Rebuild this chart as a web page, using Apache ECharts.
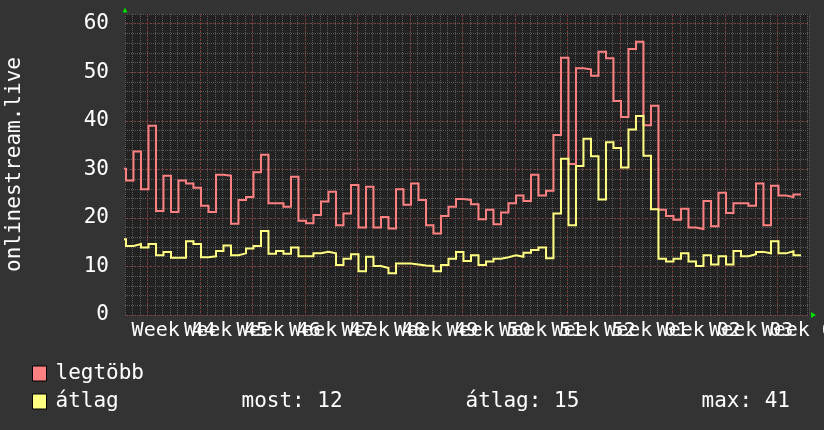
<!DOCTYPE html>
<html>
<head>
<meta charset="utf-8">
<script src="https://cdn.jsdelivr.net/npm/echarts@6/dist/echarts.min.js"></script>
<style>
html,body{margin:0;padding:0;background:#333333;}
#chart{width:824px;height:430px;}
</style>
</head>
<body>
<div id="chart"></div>
<script>
// ---- data ----
const weekLabels = ['Week 44','Week 45','Week 46','Week 47','Week 48','Week 49','Week 50',
  'Week 51','Week 52','Week 01','Week 02','Week 03','Week 04'];
const yTicks = [0, 10, 20, 30, 40, 50, 60];
const seriesNames = ['legtöbb', 'átlag'];
const yTitle = 'onlinestream.live';

// one value per day (first one is the partial day at the left edge)
const legtobb = [30.1,
  27.7,33.7,25.9,39.0,21.4,28.7,21.2,27.7,27.1,26.2,
  22.5,21.2,28.9,28.7,18.8,23.7,24.3,29.4,33.0,23.0,
  23.0,22.3,28.5,19.4,18.9,20.6,23.4,25.4,18.5,20.9,
  26.8,18.0,26.4,18.0,20.2,17.8,25.9,22.7,27.1,23.7,
  18.5,16.8,20.4,22.3,23.9,23.7,22.8,19.7,21.7,18.7,
  21.1,23.0,24.6,23.5,28.9,24.6,25.6,37.1,53.0,31.1,
  50.8,50.6,49.3,54.2,52.9,44.1,40.8,54.8,56.3,39.1,
  43.1,21.7,20.4,19.6,21.9,18.0,17.7,23.5,18.3,25.2,
  21.0,23.0,23.0,22.5,27.1,18.5,26.6,24.6,24.3,24.8];
const atlag = [15.6,
  14.2,14.6,13.9,14.6,12.3,13.0,11.8,11.8,15.2,14.6,
  11.9,12.1,13.2,14.3,12.3,12.7,13.7,14.2,17.3,12.6,
  13.2,12.6,13.9,12.1,12.1,12.7,13.0,12.7,10.3,11.6,
  12.5,9.0,12.0,10.1,9.7,8.6,10.6,10.6,10.4,10.2,
  10.1,9.0,10.3,11.6,13.0,11.1,12.3,10.3,11.0,11.6,
  11.9,12.3,12.0,12.8,13.4,13.9,11.7,20.9,32.2,18.5,
  30.7,36.3,32.7,23.8,35.6,34.4,30.4,38.2,41.0,32.8,
  21.8,11.6,11.0,11.6,12.7,11.0,10.1,12.3,10.4,12.1,
  10.4,13.2,12.1,12.5,13.0,12.7,15.2,12.7,13.1,12.3];

// ---- layout / style ----
const FONT = 'DejaVu Sans Mono';
const L = 125, T = 14, W = 684, H = 301;   // plot area
const R = L + W, B = T + H;
const DAY = 7.5;                           // px per day
const STEP_OFFSET = 0.13;                  // data steps start slightly after the day grid
const YMAX = 62;
const RED = '#ff8080', YEL = '#ffff80';
const MINOR = '#595959', MAJOR = '#7a3434';

function stepPoints(vals) {
  const pts = vals.map((v, i) => [i - 1 + STEP_OFFSET, v]);
  pts.push([vals.length - 1 + STEP_OFFSET, vals[vals.length - 1]]);
  return pts;
}
const cur = Math.round(atlag[atlag.length - 1]);
const avg = Math.round(atlag.reduce((a, b) => a + b, 0) / atlag.length);
const mx = Math.round(Math.max.apply(null, atlag));

const chart = echarts.init(document.getElementById('chart'), null, {renderer: 'canvas'});
const txt = {color: '#ffffff', fontFamily: FONT, fontSize: 21, lineHeight: 21};
const gridBase = {top: T, height: H, containLabel: false, outerBoundsMode: 'none'};
// week labels sit in the middle of each week; even and odd weeks on two axes
// so that the library never drops an overlapping neighbour
const LAB0 = L + 6.5 * DAY, LAB1 = L + 13.5 * DAY;

function labelAxis(gridIndex, left, first) {
  return {type: 'value', gridIndex: gridIndex, min: 0, max: (R - left) / DAY, interval: 14,
    axisLine: {show: false}, axisTick: {show: false}, splitLine: {show: false},
    axisLabel: {show: true, showMinLabel: true, showMaxLabel: false, hideOverlap: false, margin: 6,
      color: '#ffffff', fontFamily: FONT, fontSize: 20,
      formatter: v => {
        const k = first + v / 7;
        return (Number.isInteger(v / 14) && weekLabels[k]) ? weekLabels[k] : '';
      }}};
}

chart.setOption({
  backgroundColor: '#333333',
  animation: false,
  grid: [
    Object.assign({left: L, width: W, show: true, backgroundColor: '#222222', borderWidth: 0}, gridBase),
    Object.assign({left: L + 3 * DAY, width: R - (L + 3 * DAY)}, gridBase),
    Object.assign({left: LAB0, width: R - LAB0}, gridBase),
    Object.assign({left: LAB1, width: R - LAB1}, gridBase)
  ],
  xAxis: [
    {type: 'value', gridIndex: 0, min: 0, max: W / DAY, interval: 1,
     axisLine: {show: false}, axisTick: {show: false}, axisLabel: {show: false},
     splitLine: {show: true, lineStyle: {color: MINOR, width: 1, type: [1, 1]}}},
    {type: 'value', gridIndex: 1, min: 0, max: (R - (L + 3 * DAY)) / DAY, interval: 7, z: 1,
     axisLine: {show: false}, axisTick: {show: false}, axisLabel: {show: false},
     splitLine: {show: true, showMaxLine: false, lineStyle: {color: MAJOR, width: 1, type: [2, 2]}}},
    labelAxis(2, LAB0, 0),
    labelAxis(3, LAB1, 1)
  ],
  yAxis: [
    {type: 'value', gridIndex: 0, position: 'left', min: 0, max: YMAX, interval: 2,
     axisLine: {show: false}, axisTick: {show: false}, axisLabel: {show: false},
     splitLine: {show: true, lineStyle: {color: MINOR, width: 1, type: [1, 1]}}},
    {type: 'value', gridIndex: 0, position: 'left', min: 0, max: YMAX, interval: 10, z: 1,
     name: yTitle, nameLocation: 'middle', nameGap: 100, nameRotate: 90,
     nameTextStyle: {color: '#ffffff', fontFamily: FONT, fontSize: 21},
     axisLine: {show: false}, axisTick: {show: false},
     axisLabel: {show: true, showMinLabel: true, margin: 16, color: '#ffffff', fontFamily: FONT, fontSize: 21,
       formatter: v => yTicks.indexOf(v) >= 0 ? String(v) : ''},
     splitLine: {show: true, showMaxLine: false, lineStyle: {color: MAJOR, width: 1, type: [2, 2]}}},
    {type: 'value', gridIndex: 1, min: 0, max: YMAX, show: false},
    {type: 'value', gridIndex: 2, min: 0, max: YMAX, show: false},
    {type: 'value', gridIndex: 3, min: 0, max: YMAX, show: false}
  ],
  legend: {
    orient: 'vertical', left: 32, top: 363, padding: 0, itemGap: 7,
    itemWidth: 14, itemHeight: 15, icon: 'rect', selectedMode: false,
    data: [
      {name: seriesNames[0], itemStyle: {color: RED, borderColor: '#000000', borderWidth: 1}},
      {name: seriesNames[1], itemStyle: {color: YEL, borderColor: '#000000', borderWidth: 1}}
    ],
    textStyle: Object.assign({}, txt, {padding: [0, 0, 0, 4],
      rich: {
        n: Object.assign({}, txt, {width: 186}),
        s1: Object.assign({}, txt, {width: 224}),
        s2: Object.assign({}, txt, {width: 236}),
        s3: Object.assign({}, txt)
      }}),
    formatter: name => name === seriesNames[1]
      ? `{n|${name}}{s1|most: ${cur}}{s2|átlag: ${avg}}{s3|max: ${mx}}`
      : `{n|${name}}`
  },
  graphic: [
    {type: 'polygon', silent: true, z: 10,
     shape: {points: [[L - 2.5, T - 1.5], [L + 2.5, T - 1.5], [L, T - 6.5]]}, style: {fill: '#00e000'}},
    {type: 'polygon', silent: true, z: 10,
     shape: {points: [[R + 2, B - 3], [R + 2, B + 3], [R + 7, B]]}, style: {fill: '#00e000'}}
  ],
  series: [
    {name: seriesNames[0], type: 'line', xAxisIndex: 0, yAxisIndex: 0, step: 'end',
     showSymbol: false, symbol: 'none', clip: true, color: RED,
     lineStyle: {color: RED, width: 2, join: 'miter', cap: 'butt'}, data: stepPoints(legtobb)},
    {name: seriesNames[1], type: 'line', xAxisIndex: 0, yAxisIndex: 0, step: 'end',
     showSymbol: false, symbol: 'none', clip: true, color: YEL,
     lineStyle: {color: YEL, width: 2, join: 'miter', cap: 'butt'}, data: stepPoints(atlag)}
  ]
});
</script>
</body>
</html>
